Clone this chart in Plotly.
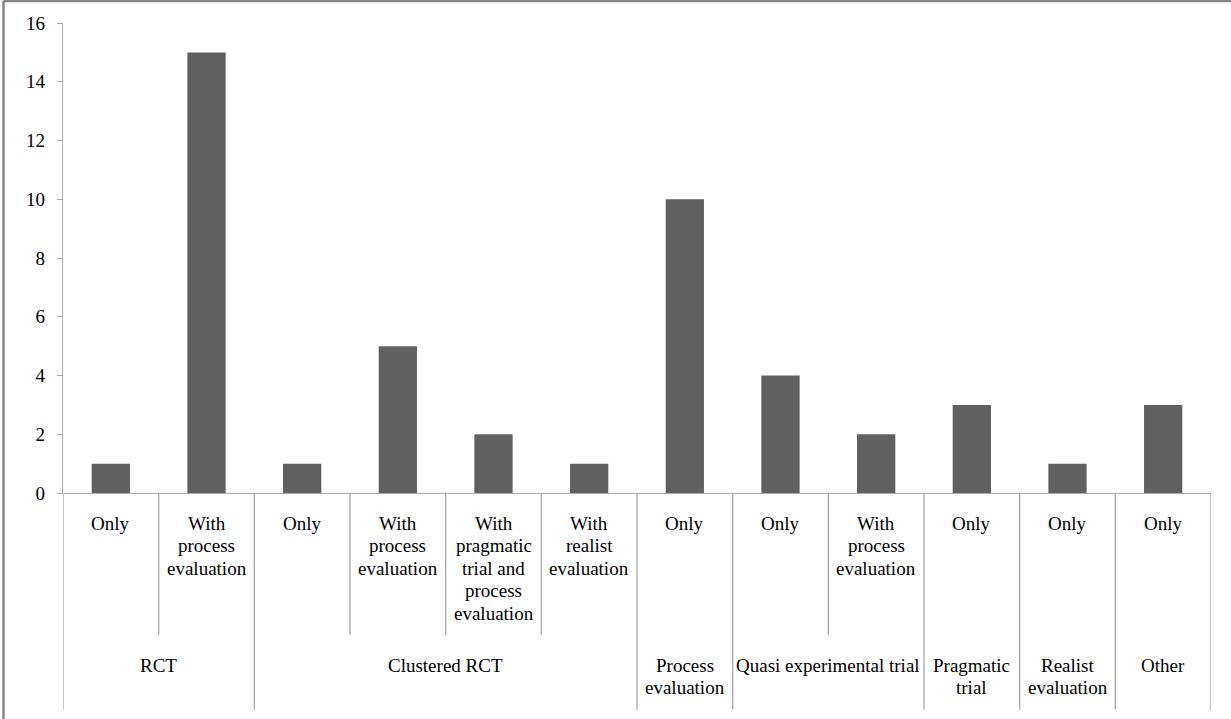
import plotly.graph_objects as go

groups = ["RCT", "RCT", "Clustered RCT", "Clustered RCT", "Clustered RCT", "Clustered RCT",
          "Process\nevaluation", "Quasi experimental trial", "Quasi experimental trial",
          "Pragmatic\ntrial", "Realist\nevaluation", "Other"]
subcats = ["Only", "With\nprocess\nevaluation", "Only", "With\nprocess\nevaluation",
           "With\npragmatic\ntrial and\nprocess\nevaluation", "With\nrealist\nevaluation",
           "Only", "Only", "With\nprocess\nevaluation", "Only", "Only", "Only"]
values = [1, 15, 1, 5, 2, 1, 10, 4, 2, 3, 1, 3]
y_ticks = [0, 2, 4, 6, 8, 10, 12, 14, 16]

FONT = "Liberation Serif"
FSIZE = 19
LINE = "#ababab"
LINE_STEP = 22.5
n = len(values)
xs = list(range(n))

fig = go.Figure(go.Bar(x=xs, y=values, marker=dict(color="#606060", line=dict(width=0)),
                       width=0.4, hoverinfo="skip"))

TOP, BASE = 23, 493
LEFT, RIGHT = 63, 1211
PLOT_H = BASE - TOP
PLOT_W = RIGHT - LEFT
inner_y = -(635 - BASE) / PLOT_H
outer_y = -(710 - BASE) / PLOT_H

shapes = []
annotations = []


def add_label(x, text, first_offset):
    for k, line in enumerate(text.split("\n")):
        annotations.append(dict(x=x, y=0, xref="x", yref="paper", yanchor="middle",
                                yshift=-(first_offset + k * LINE_STEP), text=line,
                                showarrow=False,
                                font=dict(family=FONT, size=FSIZE, color="black")))


for i in range(n):
    add_label(i, subcats[i], 30)

for b in range(n + 1):
    if b == 0 or b == n or groups[b - 1] != groups[b]:
        y1 = outer_y
    else:
        y1 = inner_y
    shapes.append(dict(type="line", xref="x", yref="paper", x0=b - 0.5, x1=b - 0.5,
                       y0=0, y1=y1, line=dict(color=LINE, width=1.3)))

start = 0
for i in range(1, n + 1):
    if i == n or groups[i] != groups[start]:
        add_label((start + i - 1) / 2, groups[start], 172)
        start = i

fx = -(LEFT - 3.5) / PLOT_W
fy = (BASE - 1) / PLOT_H
shapes.append(dict(type="line", xref="paper", yref="paper", x0=fx, x1=1.1,
                   y0=fy, y1=fy, line=dict(color="#878787", width=2.5)))
shapes.append(dict(type="line", xref="paper", yref="paper", x0=fx, x1=fx,
                   y0=fy, y1=-1, line=dict(color="#878787", width=2.5)))

fig.update_layout(
    width=1231, height=719,
    margin=dict(l=LEFT, r=1231 - RIGHT, t=TOP, b=719 - BASE),
    plot_bgcolor="white", paper_bgcolor="white",
    showlegend=False,
    shapes=shapes, annotations=annotations,
    xaxis=dict(range=[-0.5, n - 0.5], showticklabels=False, ticks="", showgrid=False,
               zeroline=False, showline=True, linecolor=LINE, linewidth=1.3, fixedrange=True),
    yaxis=dict(range=[0, 16], tickvals=y_ticks, ticks="outside", ticklen=5, tickcolor=LINE,
               showgrid=False, zeroline=False, showline=True, linecolor=LINE, linewidth=1.3,
               tickfont=dict(family=FONT, size=FSIZE, color="black"), ticklabelstandoff=8,
               fixedrange=True),
)

fig.write_html("out.html", config={"displayModeBar": False},
               post_script="document.body.style.margin='0';document.body.style.overflow='hidden';")
